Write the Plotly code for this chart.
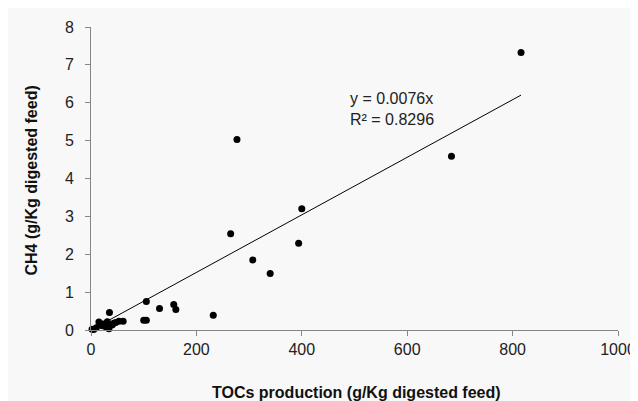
import plotly.graph_objects as go

# Data
toc = [816, 684, 277, 265, 400, 394, 307, 340, 232, 105, 130, 157, 161, 100, 105,
       35, 61, 53, 15, 31, 21, 29, 40, 43, 34, 2, 5, 10, 25, 47, 22]
ch4 = [7.33, 4.59, 5.03, 2.54, 3.20, 2.29, 1.85, 1.49, 0.39, 0.75, 0.57, 0.67, 0.54, 0.26, 0.26,
       0.46, 0.23, 0.23, 0.21, 0.22, 0.11, 0.07, 0.13, 0.18, 0.03, 0.02, 0.01, 0.06, 0.15, 0.20, 0.16]
slope = 0.0076
r2 = 0.8296
trend_x = [0, max(toc)]
trend_y = [slope * v for v in trend_x]

x_ticks = [0, 200, 400, 600, 800, 1000]
y_ticks = [0, 1, 2, 3, 4, 5, 6, 7, 8]
x_title = "TOCs production (g/Kg digested feed)"
y_title = "CH4 (g/Kg digested feed)"

FONT = "Liberation Sans, Arial, sans-serif"
AXIS_COL = "#868686"
PW, PH = 527, 303  # plot area size in px

fig = go.Figure()
fig.add_trace(go.Scatter(x=trend_x, y=trend_y, mode="lines",
                         line=dict(color="black", width=1), hoverinfo="skip",
                         showlegend=False))
fig.add_trace(go.Scatter(x=toc, y=ch4, mode="markers",
                         marker=dict(color="black", size=7),
                         cliponaxis=False, showlegend=False))

fig.add_annotation(xref="x", yref="y", x=487, y=6.4, xanchor="left", yanchor="top",
                   showarrow=False, align="left",
                   text=f"y = {slope}x<br>R² = {r2}",
                   font=dict(family=FONT, size=16, color="#222222"))

# axis titles
fig.add_annotation(xref="paper", yref="paper", x=0.5 + 2 / PW, y=-62 / PH,
                   xanchor="center", yanchor="middle", showarrow=False,
                   text=f"<b>{x_title}</b>",
                   font=dict(family=FONT, size=16, color="#111111"))
fig.add_annotation(xref="paper", yref="paper", x=-60 / PW, y=0.5 - 2 / PH,
                   xanchor="center", yanchor="middle", showarrow=False, textangle=-90,
                   text=f"<b>{y_title}</b>",
                   font=dict(family=FONT, size=16, color="#111111"))

fig.update_layout(
    width=630, height=393,
    margin=dict(l=83, r=20, t=19, b=71),
    paper_bgcolor="#f8f8f8", plot_bgcolor="#f8f8f8",
    font=dict(family=FONT, size=16, color="#222222"),
    xaxis=dict(range=[0, 1000], tickvals=x_ticks, showgrid=False, zeroline=False,
               showline=True, linecolor=AXIS_COL, linewidth=1, automargin=False,
               ticks="outside", ticklen=5, tickcolor=AXIS_COL),
    yaxis=dict(range=[0, 8], tickvals=y_ticks, showgrid=False, zeroline=False,
               showline=True, linecolor=AXIS_COL, linewidth=1, automargin=False,
               ticks="outside", ticklen=5, tickcolor=AXIS_COL,
               ticklabelstandoff=8),
)

fig.write_html("out.html")
